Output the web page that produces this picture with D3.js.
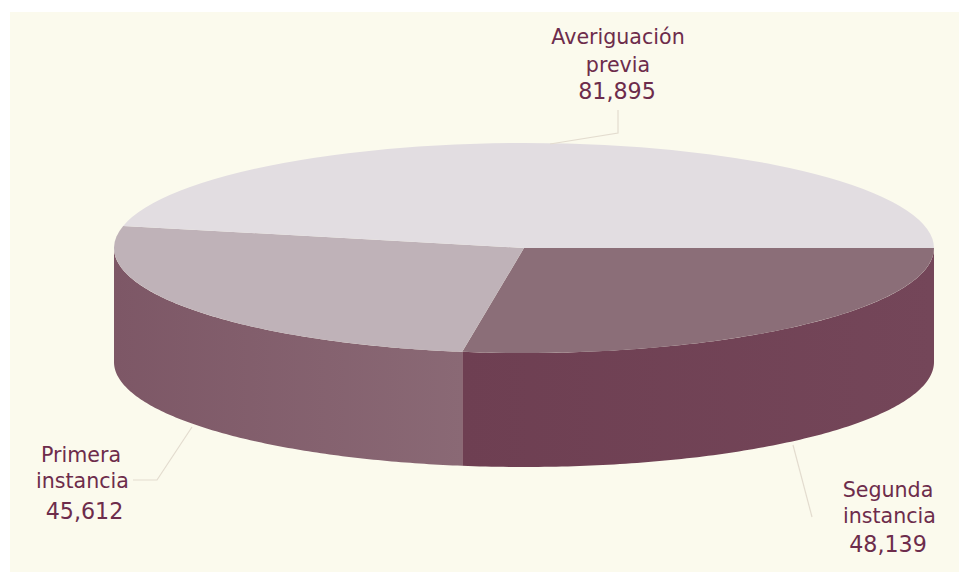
<!DOCTYPE html>
<html><head><meta charset="utf-8">
<script src="https://cdn.jsdelivr.net/npm/d3@7/dist/d3.min.js"></script>
<style>html,body{margin:0;padding:0;background:#fff}svg{display:block}</style></head>
<body><svg id="c" width="959" height="572"></svg>
<script>
const categories = ["Segunda instancia", "Primera instancia", "Averiguación previa"];
const values = [48139, 45612, 81895];
const labelLines = [["Segunda", "instancia", "48,139"], ["Primera", "instancia", "45,612"], ["Averiguación", "previa", "81,895"]];
const labelX = [[888, 889.5, 888], [81, 82.5, 84.5], [618, 618, 617]];
const labelY = [[497, 523, 552], [462, 488, 519], [44, 72, 99]];
const topColors = ["#8b6e78", "#bfb2b8", "#e2dde1"];
const sideStops = [["#6e3f52", "#744659"], ["#7d5766", "#8a6975"], ["#7d5766", "#7d5766"]];
const leaders = [
  [[793, 445], [812, 517]],
  [[192, 427], [157, 480], [133, 480]],
  [[618, 110], [618, 133], [550, 144]]
];

const W = 959, H = 572;
const cx = 524, cy = 248, rx = 410, ry = 105, depth = 114;
const svg = d3.select("#c");
svg.append("rect").attr("x", 10).attr("y", 12).attr("width", W - 10).attr("height", H - 12).attr("fill", "#fbfaed");

const defs = svg.append("defs");
sideStops.forEach((st, i) => {
  const g = defs.append("linearGradient").attr("id", "side" + i);
  g.append("stop").attr("offset", "0%").attr("stop-color", st[0]);
  g.append("stop").attr("offset", "100%").attr("stop-color", st[1]);
});

const pie = d3.pie().sort(null).startAngle(Math.PI / 2).endAngle(Math.PI / 2 + 2 * Math.PI);
const slices = pie(values);
const px = a => cx + rx * Math.sin(a);
const py = a => cy - ry * Math.cos(a);

// side wall: only the front half of the disc (d3 angles PI/2 .. 3PI/2)
const wall = d3.area().x(a => px(a)).y0(a => py(a)).y1(a => py(a) + depth);
slices.forEach((s, i) => {
  const a0 = Math.max(s.startAngle, Math.PI / 2), a1 = Math.min(s.endAngle, 3 * Math.PI / 2);
  if (a1 <= a0) return;
  svg.append("path").attr("d", wall(d3.range(0, 121).map(k => a0 + (a1 - a0) * k / 120))).attr("fill", `url(#side${i})`);
});

const arc = d3.arc().innerRadius(0).outerRadius(rx);
const face = svg.append("g").attr("transform", `translate(${cx},${cy}) scale(1,${ry / rx})`);
face.selectAll("path").data(slices).join("path").attr("d", arc).attr("fill", (d, i) => topColors[i]);

const line = d3.line();
svg.selectAll("path.leader").data(leaders).join("path").attr("class", "leader")
  .attr("d", line).attr("fill", "none").attr("stroke", "#e3dccf").attr("stroke-width", 1.2);

labelLines.forEach((lines, i) => {
  const t = svg.append("text").attr("text-anchor", "middle").attr("font-family", "DejaVu Sans").attr("fill", "#6d2c4b");
  lines.forEach((l, k) => t.append("tspan").attr("x", labelX[i][k]).attr("y", labelY[i][k])
    .attr("font-size", k === 2 ? 22.2 : 20.6).text(l));
});
</script></body></html>
